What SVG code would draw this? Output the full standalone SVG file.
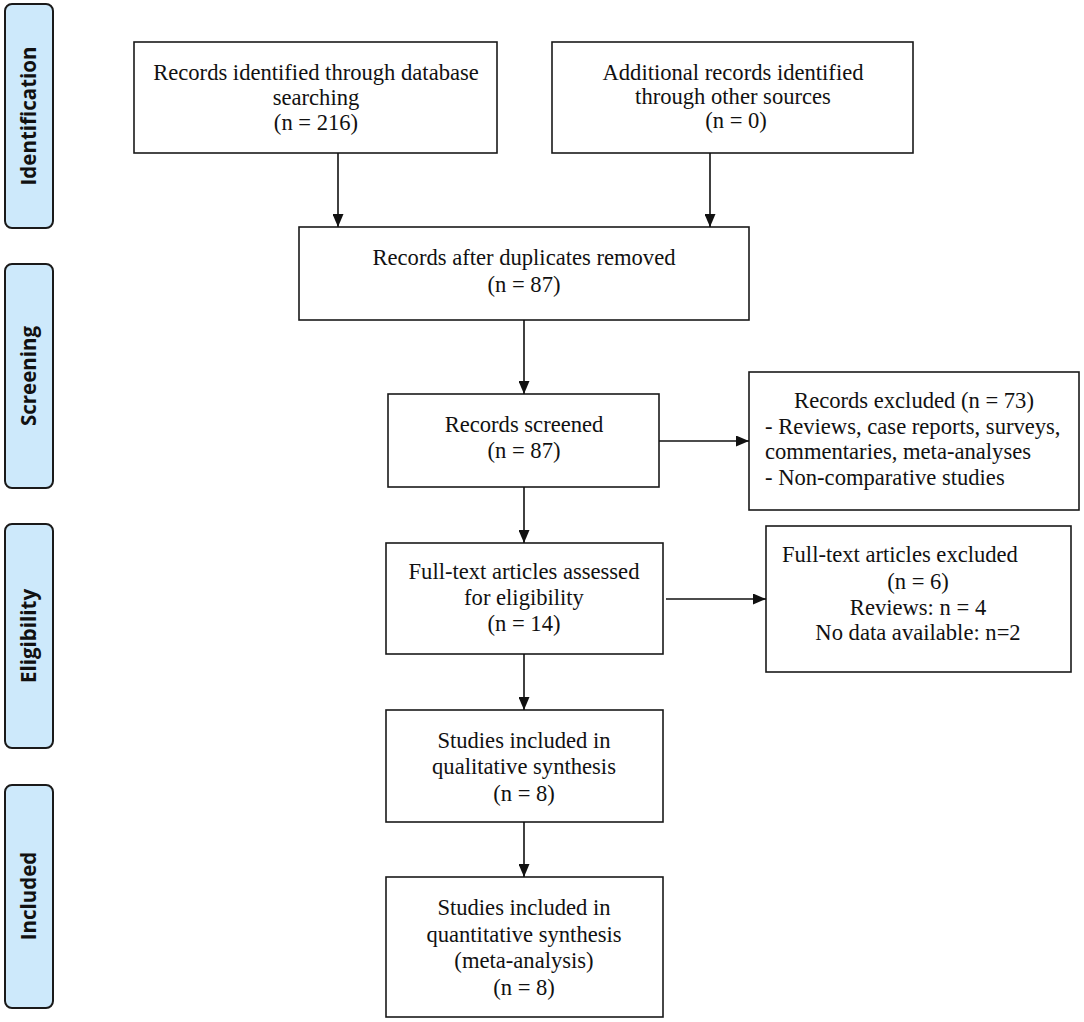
<svg xmlns="http://www.w3.org/2000/svg" width="1084" height="1022" viewBox="0 0 1084 1022">
<style>
.bar{fill:#cde9fb;stroke:#1a1a1a;stroke-width:2}
.bl{font-family:"Open Sans","Liberation Sans",sans-serif;font-weight:bold;font-size:20.5px;fill:#111;text-anchor:middle}
.box{fill:#fff;stroke:#1a1a1a;stroke-width:1.6}
.t{font-family:"Liberation Serif","Times New Roman",serif;font-size:22.6px;fill:#111;text-anchor:middle}
.tl{font-family:"Liberation Serif","Times New Roman",serif;font-size:22.6px;fill:#111;text-anchor:start}
.c{stroke:#111;stroke-width:1.6;fill:none;marker-end:url(#ah)}
</style>
<defs>
<marker id="ah" viewBox="0 0 13 11" refX="13" refY="5.5" markerWidth="13" markerHeight="11" markerUnits="userSpaceOnUse" orient="auto">
<path d="M0,0 L13,5.5 L0,11 Z" fill="#111"/>
</marker>
</defs>
<rect width="1084" height="1022" fill="#fff"/>
<g id="stage-identification"><rect class="bar" x="5" y="4" width="48" height="224" rx="7"/><text class="bl" transform="translate(36,116) rotate(-90)">Identification</text></g>
<g id="stage-screening"><rect class="bar" x="5" y="264" width="48" height="224" rx="7"/><text class="bl" transform="translate(36,376) rotate(-90)">Screening</text></g>
<g id="stage-eligibility"><rect class="bar" x="5" y="524" width="48" height="224" rx="7"/><text class="bl" transform="translate(36,636) rotate(-90)">Eligibility</text></g>
<g id="stage-included"><rect class="bar" x="5" y="785" width="48" height="223" rx="7"/><text class="bl" transform="translate(36,896) rotate(-90)">Included</text></g>

<g id="n-database"><rect class="box" x="134" y="42" width="363" height="111"/>
<text class="t" x="316" y="80">Records identified through database</text>
<text class="t" x="316" y="105">searching</text>
<text class="t" x="316" y="130">(n = 216)</text></g>
<g id="n-other"><rect class="box" x="552" y="42" width="361" height="111"/>
<text class="t" x="733" y="80">Additional records identified</text>
<text class="t" x="733" y="104">through other sources</text>
<text class="t" x="736" y="128">(n = 0)</text></g>
<g id="n-dup"><rect class="box" x="299" y="227" width="450" height="93"/>
<text class="t" x="524" y="265">Records after duplicates removed</text>
<text class="t" x="524" y="292">(n = 87)</text></g>
<g id="n-screened"><rect class="box" x="388" y="394" width="271" height="93"/>
<text class="t" x="524" y="432">Records screened</text>
<text class="t" x="524" y="458">(n = 87)</text></g>
<g id="n-excluded"><rect class="box" x="749" y="372" width="330" height="138"/>
<text class="t" x="914" y="408">Records excluded (n = 73)</text>
<text class="tl" x="765" y="434">- Reviews, case reports, surveys,</text>
<text class="tl" x="765" y="459">commentaries, meta-analyses</text>
<text class="tl" x="765" y="485">- Non-comparative studies</text></g>
<g id="n-fulltext"><rect class="box" x="386" y="543" width="277" height="111"/>
<text class="t" x="524" y="579">Full-text articles assessed</text>
<text class="t" x="524" y="605">for eligibility</text>
<text class="t" x="524" y="631">(n = 14)</text></g>
<g id="n-ftexcluded"><rect class="box" x="766" y="526" width="305" height="146"/>
<text class="tl" x="782" y="562">Full-text articles excluded</text>
<text class="t" x="918" y="589">(n = 6)</text>
<text class="t" x="918" y="615">Reviews: n = 4</text>
<text class="t" x="918" y="640">No data available: n=2</text></g>
<g id="n-qual"><rect class="box" x="386" y="710" width="277" height="112"/>
<text class="t" x="524" y="748">Studies included in</text>
<text class="t" x="524" y="774">qualitative synthesis</text>
<text class="t" x="524" y="801">(n = 8)</text></g>
<g id="n-quant"><rect class="box" x="386" y="877" width="277" height="140"/>
<text class="t" x="524" y="915">Studies included in</text>
<text class="t" x="524" y="942">quantitative synthesis</text>
<text class="t" x="524" y="968">(meta-analysis)</text>
<text class="t" x="524" y="995">(n = 8)</text></g>

<g id="connectors">
<line class="c" x1="338" y1="153" x2="338" y2="227"/>
<line class="c" x1="710" y1="153" x2="710" y2="227"/>
<line class="c" x1="524" y1="320" x2="524" y2="394"/>
<line class="c" x1="659" y1="441" x2="749" y2="441"/>
<line class="c" x1="524" y1="487" x2="524" y2="543"/>
<line class="c" x1="666" y1="599" x2="766" y2="599"/>
<line class="c" x1="524" y1="654" x2="524" y2="710"/>
<line class="c" x1="524" y1="822" x2="524" y2="877"/>
</g>
</svg>
